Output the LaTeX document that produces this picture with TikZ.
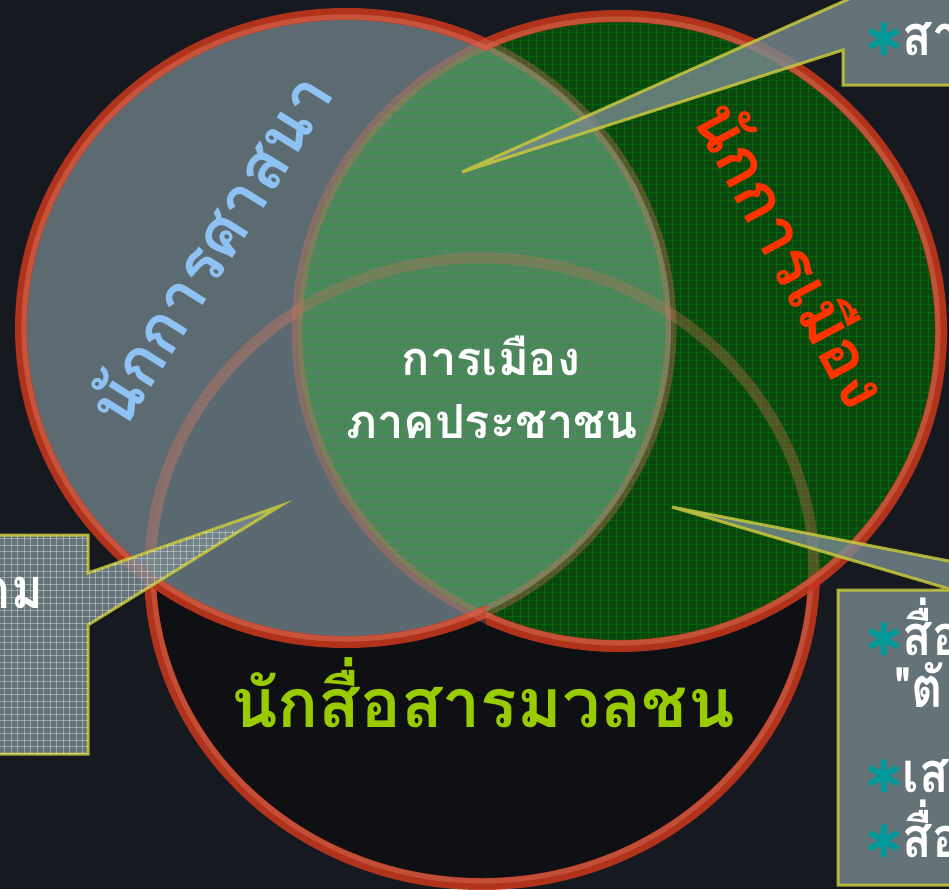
\documentclass[tikz,border=0pt]{standalone}
\usepackage{fontspec}
\newfontfamily\thai[Script=Thai]{Loma}
\newfontfamily\thaicond[Script=Thai, FakeStretch=0.86]{Loma}
\newfontfamily\dejavu{DejaVu Sans}
\definecolor{bgc}{HTML}{161A20}
\definecolor{grayc}{HTML}{64747A}
\definecolor{greenc}{HTML}{0A4C0E}
\definecolor{overc}{HTML}{588A6A}
\definecolor{blackc}{HTML}{0E1014}
\definecolor{ringc}{HTML}{C2361C}
\definecolor{ringlt}{HTML}{DC725C}
\definecolor{boxc}{HTML}{788A8F}
\definecolor{boxedge}{HTML}{C8C83C}
\definecolor{bulc}{HTML}{009999}
\definecolor{bluet}{HTML}{8EC2F2}
\definecolor{redt}{HTML}{FF3300}
\definecolor{limet}{HTML}{99CC00}
\newcommand{\bul}{{\color{bulc}\fontsize{52}{52}\selectfont\dejavu ∗}\kern-3pt}
\tikzset{
  ring/.style={draw=ringc, line width=12pt, draw opacity=0.9},
  ringin/.style={draw=ringlt, line width=5pt, draw opacity=0.45},
  faintring/.style={draw=ringlt, line width=11pt, draw opacity=0.35},
  fainterring/.style={draw=ringlt, line width=11pt, draw opacity=0.28},
  callout/.style={fill=boxc, fill opacity=0.8, draw=boxedge, line width=3pt, draw opacity=0.85, line join=miter},
  ctext/.style={text=white, font=\thaicond\bfseries\fontsize{56}{58}\selectfont, inner sep=0pt},
  ctrtext/.style={text=white, font=\thai\bfseries\fontsize{47}{49}\selectfont, inner sep=0pt, anchor=base},
  lbl/.style={font=\thai\bfseries\fontsize{66}{68}\selectfont, inner sep=0pt},
}
\begin{document}
\begin{tikzpicture}[x=1pt,y=-1pt]
\path[use as bounding box] (0,0) rectangle (949,889);
\fill[bgc] (0,0) rectangle (949,889);
\coordinate (c1) at (346,328);
\coordinate (c2) at (619,331);
\coordinate (c3) at (482,571);
\tikzset{
  e1/.style={x radius=325pt, y radius=314pt},
  e2/.style={x radius=322pt, y radius=315pt},
  e3/.style={x radius=332pt, y radius=313pt},
  e1i/.style={x radius=322pt, y radius=311pt},
  e2i/.style={x radius=319pt, y radius=312pt},
  e3i/.style={x radius=329pt, y radius=310pt}}
% bottom circle
\fill[blackc] (c3) ellipse[e3];
\draw[ring] (c3) ellipse[e3];
\draw[ringin] (c3) ellipse[e3i];
% left and right circles
\fill[grayc, fill opacity=0.9] (c1) ellipse[e1];
\fill[greenc, fill opacity=0.9] (c2) ellipse[e2];
\begin{scope}
  \clip (c1) ellipse[e1];
  \fill[overc, fill opacity=0.9] (c2) ellipse[e2];
\end{scope}
% green grid texture
\begin{scope}
  \clip (c2) ellipse[e2];
  \foreach \i in {0,...,82} {
    \draw[green!70!black, line width=0.8pt, opacity=0.25] (296+8*\i,0) -- ++(0,660);
    \draw[green!70!black, line width=0.8pt, opacity=0.25] (296,8*\i) -- ++(660,0);
  }
\end{scope}
% faint bottom ring seen through the upper circles
\begin{scope}
  \clip (c1) ellipse[e1] (c2) ellipse[e2];
  \draw[fainterring] (c3) ellipse[e3];
\end{scope}
% rings
\begin{scope}
  \clip (-20,-20) rectangle (486,900);
  \draw[ring] (c1) ellipse[e1];
  \draw[ringin] (c1) ellipse[e1i];
  \draw[faintring] (c2) ellipse[e2];
\end{scope}
\begin{scope}
  \clip (486,-20) rectangle (970,900);
  \draw[ring] (c2) ellipse[e2];
  \draw[ringin] (c2) ellipse[e2i];
  \draw[faintring] (c1) ellipse[e1];
\end{scope}
% circle labels
\node[lbl, text=bluet, rotate=58] (relig) at (208,248) {นักการศาสนา};
\node[lbl, text=redt, rotate=-62] (polit) at (795,253) {นักการเมือง};
\node[ctrtext] (ctr1) at (491,375) {การเมือง};
\node[ctrtext] (ctr2) at (492,438) {ภาคประชาชน};
\node[font=\thai\bfseries\fontsize{68}{70}\selectfont, text=limet, inner sep=0pt, anchor=base] (media) at (483,727) {นักสื่อสารมวลชน};
% callouts
\coordinate (tipA) at (462,172);
\coordinate (tipB) at (280,506);
\coordinate (tipC) at (672,507);
\draw[callout] (843,85) -- (843,50) -- (tipA) -- (869,-10) -- (1000,-10) -- (1000,85) -- cycle;
\draw[callout] (-20,535) -- (88,535) -- (88,573) -- (tipB) -- (88,625) -- (88,754) -- (-20,754) -- cycle;
\begin{scope}
  \clip (-20,535) -- (88,535) -- (88,573) -- (tipB) -- (88,625) -- (88,754) -- (-20,754) -- cycle;
  \foreach \i in {0,...,45} {
    \draw[white, line width=0.7pt, opacity=0.35] (-2+6.5*\i,530) -- ++(0,230);
    \draw[white, line width=0.7pt, opacity=0.35] (-20,532+6.5*\i) -- ++(310,0);
  }
\end{scope}
\draw[callout] (838,590) -- (953,590) -- (tipC) -- (1000,571) -- (1000,885) -- (838,885) -- cycle;
% callout texts
\node[ctext, anchor=base west] (ta) at (862,55) {\bul สา};
\node[ctext, anchor=base east] (tb) at (43,608) {คม};
\node[ctext, anchor=base west] (tc1) at (862,655) {\bul สื่อ};
\node[ctext, anchor=base west] (tc2) at (894,707) {"ตั};
\node[ctext, anchor=base west] (tc3) at (862,792) {\bul เส};
\node[ctext, anchor=base west] (tc4) at (862,857) {\bul สื่อ};
\end{tikzpicture}
\end{document}
